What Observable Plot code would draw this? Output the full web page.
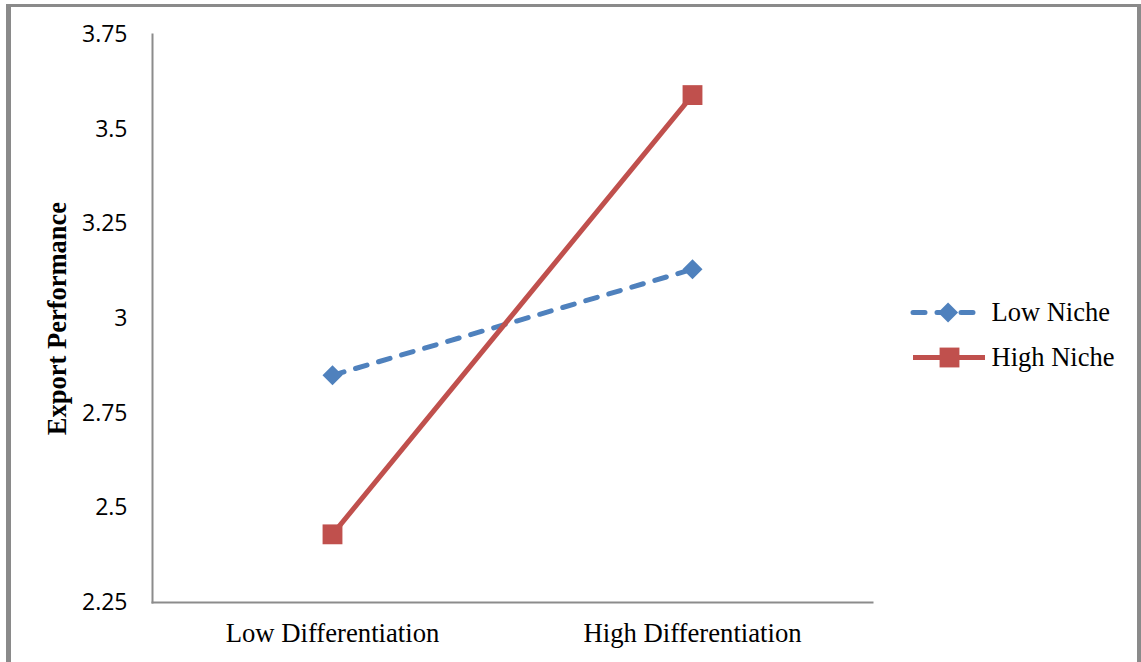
<!DOCTYPE html>
<html>
<head>
<meta charset="utf-8">
<script src="https://cdn.jsdelivr.net/npm/d3@7"></script>
<script src="https://cdn.jsdelivr.net/npm/@observablehq/plot@0.6"></script>
<style>
  html, body { margin: 0; padding: 0; background: #fff; }
  #wrap { position: relative; width: 1141px; height: 662px; overflow: hidden; background: #fff; }
  #chart, #legend { position: absolute; }
  #chart { left: 0; top: 0; }
  #legend { left: 900px; top: 285px; }
  #frame {
    position: absolute; left: 6px; top: 4px; width: 1135px; height: 658px;
    box-sizing: border-box; pointer-events: none;
    border-left: 5px solid #8a8a8a; border-top: 3px solid #8a8a8a; border-right: 4px solid #8a8a8a;
  }
</style>
</head>
<body>
<div id="wrap">
  <div id="chart"></div>
  <div id="legend"></div>
  <div id="frame"></div>
</div>
<script>
// Interaction of differentiation strategy and niche focus on export performance
const categories = ["Low Differentiation", "High Differentiation"];
const seriesNames = ["Low Niche", "High Niche"];
const lowNiche = [2.85, 3.13];
const highNiche = [2.43, 3.59];
const yTicks = [2.25, 2.5, 2.75, 3, 3.25, 3.5, 3.75];
const yTitle = "Export Performance";

const blue = "#4F81BD";
const red = "#C0504D";
const axisGray = "#8c8c8c";

const rows = [
  ...categories.map((c, i) => ({category: c, niche: seriesNames[0], value: lowNiche[i]})),
  ...categories.map((c, i) => ({category: c, niche: seriesNames[1], value: highNiche[i]}))
];
const low = rows.filter(d => d.niche === seriesNames[0]);
const high = rows.filter(d => d.niche === seriesNames[1]);

const chart = Plot.plot({
  width: 1141,
  height: 662,
  marginLeft: 152,
  marginRight: 269,
  marginTop: 34,
  marginBottom: 60,
  x: {type: "point", domain: categories, padding: 0.5, label: null},
  y: {domain: [2.25, 3.75], ticks: yTicks, label: null},
  marks: [
    Plot.axisX({tickSize: 0, tickPadding: 21, fontSize: 26.7, fontFamily: "Liberation Serif", fill: "#000", label: null}),
    Plot.axisY({ticks: yTicks, tickSize: 0, tickPadding: 25, fontSize: 23, fontFamily: "Open Sans", fill: "#000", label: null, tickFormat: d => String(d)}),
    Plot.frame({anchor: "left", stroke: axisGray, strokeWidth: 2, strokeOpacity: 1}),
    Plot.frame({anchor: "bottom", stroke: axisGray, strokeWidth: 2, strokeOpacity: 1}),
    Plot.text([yTitle], {
      frameAnchor: "left", textAnchor: "middle", rotate: -90, dx: -95,
      fontSize: 26.5, fontWeight: "bold", fontFamily: "Liberation Serif", fill: "#000"
    }),
    Plot.line(low, {x: "category", y: "value", stroke: blue, strokeWidth: 5, strokeDasharray: "12,12", strokeLinecap: "round"}),
    Plot.line(high, {x: "category", y: "value", stroke: red, strokeWidth: 5}),
    Plot.dot(low, {x: "category", y: "value", symbol: "diamond2", r: 9, fill: blue, stroke: "none"}),
    Plot.dot(high, {x: "category", y: "value", symbol: "square", r: 11.2, fill: red, stroke: "none"})
  ]
});
document.getElementById("chart").append(chart);

// Legend: one sample segment with its marker per series
const legendRows = [
  {niche: seriesNames[0]},
  {niche: seriesNames[1]}
];
const legend = Plot.plot({
  width: 240,
  height: 100,
  marginLeft: 13,
  marginRight: 155,
  marginTop: 27,
  marginBottom: 28,
  x: {domain: [0, 1], axis: null},
  y: {type: "point", domain: seriesNames, padding: 0, axis: null},
  marks: [
    Plot.ruleY([legendRows[0]], {y: "niche", x1: 0, x2: 0.9, stroke: blue, strokeWidth: 5, strokeDasharray: "12,12", strokeLinecap: "round"}),
    Plot.ruleY([legendRows[1]], {y: "niche", x1: 0, x2: 1, stroke: red, strokeWidth: 5}),
    Plot.dot([legendRows[0]], {x: 0.48, y: "niche", symbol: "diamond2", r: 9, fill: blue}),
    Plot.dot([legendRows[1]], {x: 0.5, y: "niche", symbol: "square", r: 11.2, fill: red}),
    Plot.text(legendRows, {x: 1, y: "niche", text: "niche", textAnchor: "start", dx: 6, fontSize: 26.5, fontFamily: "Liberation Serif", fill: "#000"})
  ]
});
document.getElementById("legend").append(legend);
</script>
</body>
</html>
